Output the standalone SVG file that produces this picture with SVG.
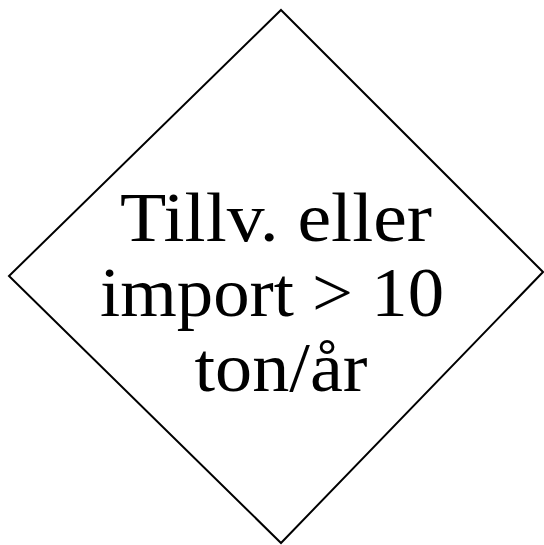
<svg xmlns="http://www.w3.org/2000/svg" width="544" height="545" viewBox="0 0 544 545">
  <style>
    .shape { fill: #ffffff; stroke: #000000; stroke-width: 2; }
    .label { font-family: "Liberation Serif", "Noto Sans CJK JP", serif; font-size: 70px; fill: #000000; text-anchor: middle; }
  </style>
  <rect width="544" height="545" fill="#ffffff"/>
  <g id="decision">
    <polygon class="shape" points="281,10 543,272 281,543 9,276"/>
    <text class="label" x="276" y="241" textLength="312" lengthAdjust="spacingAndGlyphs">Tillv. eller</text>
    <text class="label" x="272" y="316" textLength="344" lengthAdjust="spacingAndGlyphs">import &gt; 10</text>
    <text class="label" x="281" y="391" textLength="173" lengthAdjust="spacingAndGlyphs">ton/år</text>
  </g>
</svg>
